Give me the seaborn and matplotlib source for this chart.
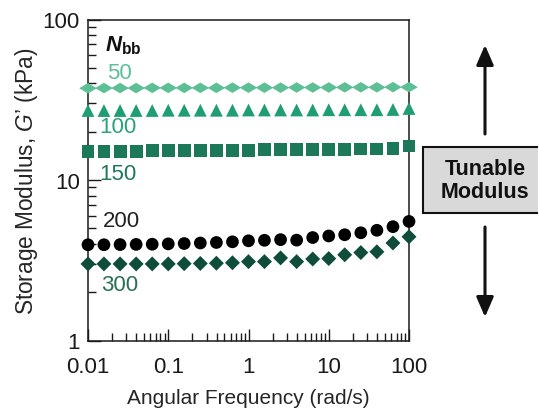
import numpy as np
import pandas as pd
import matplotlib
matplotlib.use("Agg")
import matplotlib.pyplot as plt
import seaborn as sns
from matplotlib.patches import Rectangle, FancyArrowPatch
from matplotlib.path import Path
from matplotlib.markers import MarkerStyle
from matplotlib.ticker import FixedLocator, FixedFormatter, NullFormatter

# ---------------- data ----------------
freq = [0.01, 0.0158, 0.0251, 0.0398, 0.0631, 0.1, 0.158, 0.251, 0.398, 0.631,
        1.0, 1.58, 2.51, 3.98, 6.31, 10.0, 15.8, 25.1, 39.8, 63.1, 100.0]

g_50 = [37.3, 37.4, 37.4, 37.4, 37.5, 37.5, 37.5, 37.5, 37.5, 37.6, 37.6,
        37.6, 37.6, 37.7, 37.7, 37.7, 37.8, 37.8, 37.8, 37.9, 37.9]
g_100 = [27.1, 27.1, 27.1, 27.1, 27.1, 27.2, 27.2, 27.2, 27.2, 27.2, 27.3,
         27.3, 27.3, 27.3, 27.3, 27.4, 27.4, 27.4, 27.4, 27.5, 27.9]
g_150 = [15.1, 15.1, 15.1, 15.1, 15.2, 15.2, 15.2, 15.2, 15.3, 15.3, 15.3,
         15.4, 15.4, 15.4, 15.5, 15.5, 15.5, 15.6, 15.6, 15.7, 16.3]
g_200 = [3.95, 3.95, 3.96, 3.97, 3.98, 4.00, 4.02, 4.05, 4.08, 4.12, 4.18,
         4.21, 4.25, 4.22, 4.38, 4.48, 4.56, 4.69, 4.86, 5.12, 5.52]
g_300 = [3.00, 3.00, 3.00, 3.00, 3.00, 3.00, 3.01, 3.02, 3.03, 3.05, 3.10,
         3.10, 3.27, 3.10, 3.22, 3.24, 3.42, 3.53, 3.57, 4.05, 4.43]

n_bb = ["50", "100", "150", "200", "300"]
series = [g_50, g_100, g_150, g_200, g_300]

x_ticks = [0.01, 0.1, 1, 10, 100]
x_ticklabels = ["0.01", "0.1", "1", "10", "100"]
y_ticks = [1, 10, 100]
y_ticklabels = ["1", "10", "100"]

df = pd.DataFrame({
    "freq": freq * len(series),
    "G": [v for s in series for v in s],
    "N": [n for n, s in zip(n_bb, series) for _ in s],
})

# ---------------- style ----------------
sns.set_theme(style="ticks")
plt.rcParams['font.family'] = ['Liberation Sans', 'DejaVu Sans']
plt.rcParams['mathtext.fontset'] = 'custom'
plt.rcParams['mathtext.rm'] = 'Liberation Sans'
plt.rcParams['mathtext.it'] = 'Liberation Sans:italic'
plt.rcParams['mathtext.bf'] = 'Liberation Sans:bold'
plt.rcParams['mathtext.bfit'] = 'Liberation Sans:italic:bold'

W, H = 538, 410
fig = plt.figure(figsize=(W / 100, H / 100), dpi=100)
ax = fig.add_axes([88 / W, 1 - 341.5 / H, (409 - 88) / W, (341.5 - 20.5) / H])

flat_diamond = MarkerStyle(Path([(-1, 0), (0, 0.6), (1, 0), (0, -0.6), (-1, 0)],
                                [Path.MOVETO, Path.LINETO, Path.LINETO, Path.LINETO, Path.CLOSEPOLY]))

styles = {
    "50":  dict(marker=flat_diamond, s=160, color="#5cbf98"),
    "100": dict(marker="^", s=85, color="#1f9e74"),
    "150": dict(marker="s", s=86, color="#1b7858"),
    "200": dict(marker="o", s=84, color="#000000"),
    "300": dict(marker="D", s=58, color="#0e4d3a"),
}

for n in n_bb:
    st = styles[n]
    sns.scatterplot(data=df[df["N"] == n], x="freq", y="G", ax=ax,
                    marker=st["marker"], s=st["s"], color=st["color"],
                    linewidth=0, edgecolor="none", clip_on=False, zorder=3,
                    legend=False)

ax.set_xscale("log")
ax.set_yscale("log")
ax.set_xlim(0.01, 100)
ax.set_ylim(1, 100)

ax.xaxis.set_major_locator(FixedLocator(x_ticks))
ax.xaxis.set_major_formatter(FixedFormatter(x_ticklabels))
ax.yaxis.set_major_locator(FixedLocator(y_ticks))
ax.yaxis.set_major_formatter(FixedFormatter(y_ticklabels))
minor_x = [m * 10.0 ** e for e in range(-2, 2) for m in range(2, 10)]
minor_y = [m * 10.0 ** e for e in range(0, 2) for m in range(2, 10)]
ax.xaxis.set_minor_locator(FixedLocator(minor_x))
ax.yaxis.set_minor_locator(FixedLocator(minor_y))
ax.xaxis.set_minor_formatter(NullFormatter())
ax.yaxis.set_minor_formatter(NullFormatter())

ax.tick_params(which="major", direction="in", length=9, width=1.0, color="#1a1a1a",
               labelsize=16, labelcolor="#1a1a1a")
ax.tick_params(which="minor", direction="in", length=5.5, width=1.0, color="#1a1a1a")
ax.tick_params(axis="x", which="major", pad=11)
ax.tick_params(axis="y", which="major", pad=6)

for sp in ax.spines.values():
    sp.set_linewidth(1.1)
    sp.set_color("#1a1a1a")

ax.set_xlabel("Angular Frequency (rad/s)", fontsize=15, color="#262626", labelpad=8)
ax.set_ylabel(r"Storage Modulus, $\mathit{G}$’ (kPa)", fontsize=16.3, color="#262626", labelpad=2)

# series labels
ax.text(0.0163, 70, r"$\mathbfit{N}_{\mathbf{bb}}$", fontsize=16, color="#111111",
        ha="left", va="center")
label_pos = {
    "50":  (0.025, 47.0, "#5cbf98"),
    "100": (0.0236, 21.4, "#2aa37a"),
    "150": (0.0236, 10.9, "#1f7a5a"),
    "200": (0.026, 5.56, "#222222"),
    "300": (0.0245, 2.22, "#2a6e55"),
}
for n in n_bb:
    x, y, c = label_pos[n]
    ax.text(x, y, n, fontsize=16, color=c, ha="center", va="center")

# right-hand annotation
def fx(px):
    return px / W

def fy(py):
    return 1 - py / H

box = Rectangle((fx(423), fy(214)), (548 - 423) / W, (214 - 148) / H,
                transform=fig.transFigure, facecolor="#d9d9d9", edgecolor="#111111",
                linewidth=1.5, clip_on=False)
fig.add_artist(box)
fig.text(fx(485), fy(181), "Tunable\nModulus", ha="center", va="center",
         fontsize=15.5, fontweight="bold", color="#111111", linespacing=1.15)

for a, b in [((485, 135), (485, 46)), ((485, 228), (485, 318))]:
    arr = FancyArrowPatch((fx(a[0]), fy(a[1])), (fx(b[0]), fy(b[1])),
                          transform=fig.transFigure,
                          arrowstyle="-|>,head_length=0.6,head_width=0.26",
                          mutation_scale=20, linewidth=2.2, color="#111111",
                          shrinkA=0, shrinkB=0)
    fig.add_artist(arr)

fig.savefig("out.png", dpi=100)
